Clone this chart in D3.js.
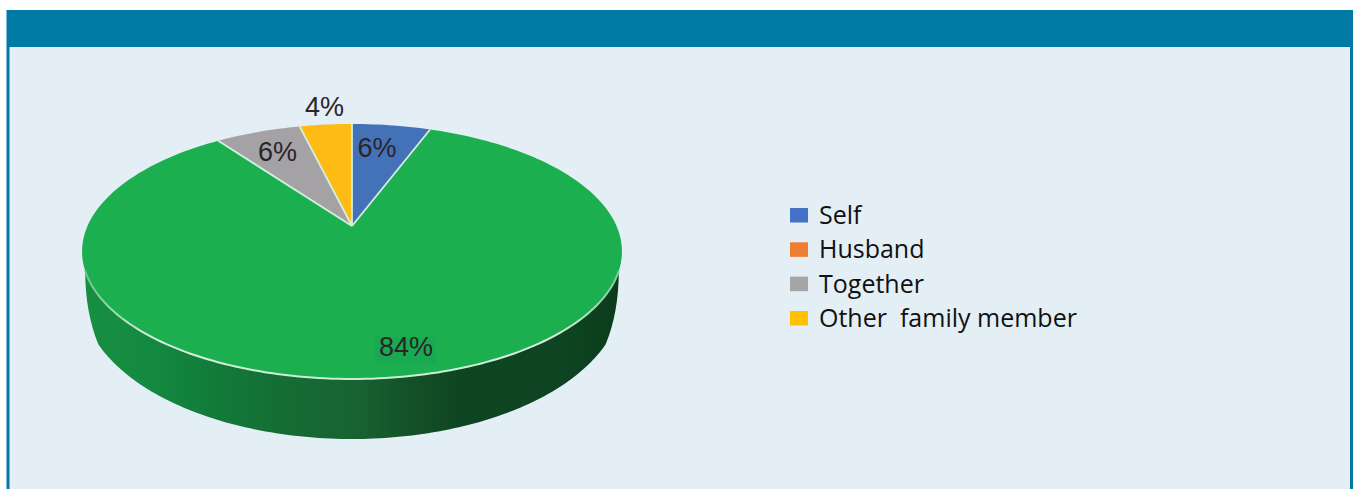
<!DOCTYPE html>
<html><head><meta charset="utf-8">
<script src="https://cdn.jsdelivr.net/npm/d3@7/dist/d3.min.js"></script>
<style>html,body{margin:0;padding:0;background:#fff;overflow:hidden}svg{display:block}</style>
</head><body>
<svg id="c" width="1353" height="489"></svg>
<script>
// data
const categories = ["Self", "Husband", "Together", "Other  family member"];
const values = [5.7, 84.3, 6.2, 3.8];
const sliceColors = ["#4472b8", "#1caf50", "#a5a2a5", "#fdbb14"];
const legendColors = ["#4472c4", "#ed7d31", "#a5a5a5", "#ffc000"];
const labels = ["6%", "84%", "6%", "4%"];
// layout
const W = 1353, H = 489;
const labelPos = [[377, 157], [406, 356], [277.5, 161], [324.5, 116]];
const apex = {x: 352, y: 226}, persp = 0.2;
const svg = d3.select("#c");
const defs = svg.append("defs");
const grad = defs.append("linearGradient").attr("id", "wall")
  .attr("gradientUnits", "userSpaceOnUse").attr("x1", 84).attr("x2", 620).attr("y1", 0).attr("y2", 0);
[[0, "#178f42"], [0.12, "#148a40"], [0.25, "#117a39"], [0.4, "#166a33"], [0.5, "#186431"],
 [0.62, "#134f27"], [0.7, "#0f4622"], [0.9, "#0e4421"], [1, "#0b3b1c"]]
  .forEach(([o, c]) => grad.append("stop").attr("offset", o).attr("stop-color", c));
const rimGrad = defs.append("linearGradient").attr("id", "rim")
  .attr("gradientUnits", "userSpaceOnUse").attr("x1", 84).attr("x2", 620).attr("y1", 0).attr("y2", 0);
[[0, "#6fc28c"], [0.12, "#d6f0dd"], [0.5, "#c9ecd4"], [0.88, "#d6f0dd"], [1, "#7fcb99"]]
  .forEach(([o, c]) => rimGrad.append("stop").attr("offset", o).attr("stop-color", c));

// frame
svg.append("rect").attr("x", 6.5).attr("y", 10).attr("width", W - 6.5).attr("height", H - 10).attr("fill", "#0079a5");
svg.append("rect").attr("x", 9.5).attr("y", 47).attr("width", 1340.5).attr("height", H - 47).attr("fill", "#e3eef5");

// perspective pie scales
const sx = d3.scaleLinear().domain([-1, 1]).range([apex.x - 264.5, apex.x + 264.5]);
const sy = d3.scaleLinear().domain([-1, 1]).range([apex.y + 122.4, apex.y - 122.4]);
function project(theta, r = 1) {
  const u = r * Math.sin(theta), v = r * Math.cos(theta), w = 1 + persp * v;
  return [sx(u / w), sy(v / w)];
}
const bx = d3.scaleLinear().domain([-1, 1]).range([apex.x - 270, apex.x + 270]);
const by = d3.scaleLinear().domain([-1, 1]).range([295 + 144, 295 - 144]);
const projectBase = t => [bx(Math.sin(t)), by(Math.cos(t))];

const pie = d3.pie().sort(null).value(d => d)(values);
const line = d3.line();
const sample = (a, b, n) => d3.range(n + 1).map(i => a + (b - a) * i / n);

// side wall
const wallA = 110 * Math.PI / 180, wallB = 250 * Math.PI / 180;
const rimPts = sample(wallA, wallB, 120).map(t => project(t));
const basePts = sample(wallB, wallA, 120).map(t => projectBase(t));
const p = d3.path();
p.moveTo(...rimPts[0]);
rimPts.slice(1).forEach(q => p.lineTo(...q));
const rL = rimPts[rimPts.length - 1], rR = rimPts[0];
p.quadraticCurveTo(rL[0], rL[1] + 41, ...basePts[0]);
basePts.slice(1).forEach(q => p.lineTo(...q));
p.quadraticCurveTo(rR[0], rR[1] + 41, ...rR);
p.closePath();
svg.append("path").attr("d", p.toString()).attr("fill", "url(#wall)");

// top face
svg.selectAll("path.slice").data(pie).join("path").attr("class", "slice")
  .attr("d", d => {
    const n = Math.max(4, Math.ceil((d.endAngle - d.startAngle) * 40));
    return line([[apex.x, apex.y], ...sample(d.startAngle, d.endAngle, n).map(t => project(t))]) + "Z";
  })
  .attr("fill", (d, i) => sliceColors[i]);

// rim highlight and slice separators
svg.append("path").attr("d", line(rimPts)).attr("fill", "none").attr("stroke", "url(#rim)").attr("stroke-width", 2);
svg.selectAll("line.sep").data(pie).join("line").attr("class", "sep")
  .attr("x1", apex.x).attr("y1", apex.y)
  .attr("x2", d => project(d.startAngle)[0]).attr("y2", d => project(d.startAngle)[1])
  .attr("stroke", "#d4f0e0").attr("stroke-width", 1.8);

// shaded patch behind the large label
svg.append("rect").attr("x", 375).attr("y", 337).attr("width", 61).attr("height", 28).attr("fill", "#19a951");

// data labels
svg.selectAll("text.lab").data(labels).join("text").attr("class", "lab")
  .attr("x", (d, i) => labelPos[i][0]).attr("y", (d, i) => labelPos[i][1])
  .attr("text-anchor", "middle").attr("font-family", "'Liberation Sans'").attr("font-size", 27)
  .attr("fill", "#2b2528").text(d => d);

// legend
const ly = d3.scalePoint().domain(categories).range([224, 327]);
const lg = svg.selectAll("g.leg").data(categories).join("g").attr("class", "leg")
  .attr("transform", d => `translate(790,${ly(d)})`);
lg.append("rect").attr("x", 0).attr("y", -16).attr("width", 18).attr("height", 14.5)
  .attr("fill", (d, i) => legendColors[i]);
lg.append("text").attr("x", 29).attr("y", 0).attr("xml:space", "preserve").style("white-space", "pre")
  .attr("font-family", "'Open Sans'").attr("font-size", 25).attr("fill", "#111").text(d => d);
</script>
</body></html>
